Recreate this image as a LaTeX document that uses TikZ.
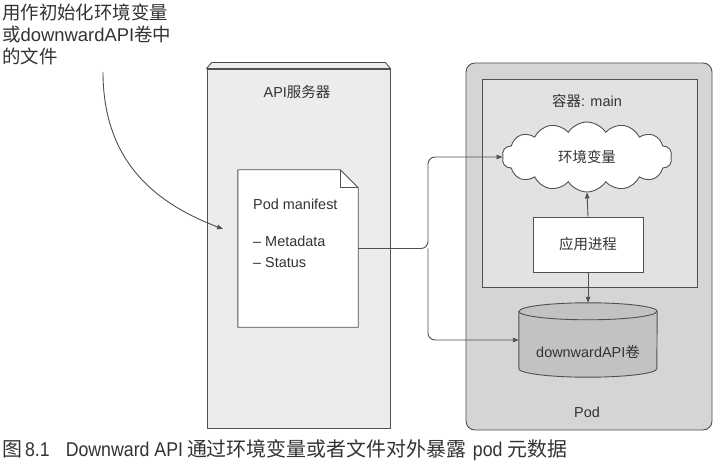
\documentclass[tikz,border=0pt]{standalone}
\usepackage{fontspec}
\setmainfont{Liberation Sans}
\newfontfamily\cjk{Noto Sans CJK SC}
\newfontfamily\capfont[FakeStretch=0.89]{Liberation Sans}
\usetikzlibrary{shapes.symbols,arrows.meta}
\definecolor{linec}{HTML}{505050}
\definecolor{txtc}{HTML}{333333}
\definecolor{srvfill}{HTML}{ECECEC}
\definecolor{podfill}{HTML}{D5D5D5}
\definecolor{ctrfill}{HTML}{E2E2E2}
\definecolor{volfill}{HTML}{C2C2C2}
\tikzset{
  outl/.style={draw=linec, line width=0.9bp},
  arr/.style={draw=linec, line width=0.9bp, -{Triangle[length=6bp,width=4.5bp]}},
  lbl/.style={text=txtc, font=\fontsize{14.5}{17}\selectfont, inner sep=0pt},
  box/.style={outl, inner sep=0pt},
}
\begin{document}
\begin{tikzpicture}[x=1bp,y=-1bp]
\useasboundingbox (0,0) rectangle (717,475);
\fill[white] (0,0) rectangle (717,475);

% annotation text
\node[anchor=north west, align=left, text=txtc, inner sep=0pt,
      font=\fontsize{18.5}{22}\selectfont] (note) at (2,4)
  {{\cjk 用作初始化环境变量}\\{\cjk 或}downwardAPI{\cjk 卷中}\\{\cjk 的文件}};

% API server
\node[box, fill=srvfill, minimum width=183bp, minimum height=359bp] (srv) at (298.5,248.5) {};
\filldraw[outl, fill=srvfill, line join=round] (srv.north west) -- ([xshift=5bp,yshift=6bp]srv.north west)
  -- ([xshift=-5bp,yshift=6bp]srv.north east) -- (srv.north east) -- cycle;
\node[lbl] (srvlbl) at (297,92) {API{\cjk 服务器}};

% document
\node[inner sep=0pt, minimum width=120bp, minimum height=157bp] (doc) at (298,248.5) {};
\filldraw[outl, fill=white, line join=round] (doc.south west) -- (doc.north west)
  -- ([xshift=-18bp]doc.north east) -- ([yshift=-18bp]doc.north east) -- (doc.south east) -- cycle;
\draw[outl, line join=round] ([xshift=-18bp]doc.north east) -- ([xshift=-18bp,yshift=-18bp]doc.north east)
  -- ([yshift=-18bp]doc.north east);
\node[lbl, anchor=west] (pm) at (253,204) {Pod manifest};
\node[lbl, anchor=west] (md) at (253,241) {\textendash\ Metadata};
\node[lbl, anchor=west] (st) at (253,263) {\textendash\ Status};

% pod
\node[box, fill=podfill, rounded corners=9bp, minimum width=246bp, minimum height=367bp] (pod) at (589,246.5) {};
\node[lbl] (podlbl) at (587,412) {Pod};

% container
\node[box, fill=ctrfill, minimum width=215bp, minimum height=208bp] (ctr) at (589.5,183) {};
\node[lbl] (ctrlbl) at (587,101) {{\cjk 容器}: main};

% cloud
\node[cloud, outl, fill=white, cloud puffs=14, cloud puff arc=115, aspect=2.37,
      minimum width=170bp, minimum height=70bp, inner sep=0pt, lbl] (env) at (587,157) {{\cjk 环境变量}};

% app process
\node[box, fill=white, minimum width=110bp, minimum height=55bp, lbl] (app) at (588,244.5) {{\cjk 应用进程}};

% volume cylinder
\node[inner sep=0pt, minimum width=138bp, minimum height=74bp] (vol) at (588,340) {};
\filldraw[outl, fill=volfill] ([yshift=-8.5bp]vol.north west) -- ([yshift=8.5bp]vol.south west)
  arc[start angle=180, end angle=360, x radius=69bp, y radius=8.5bp]
  -- ([yshift=-8.5bp]vol.north east)
  arc[start angle=0, end angle=180, x radius=69bp, y radius=8.5bp] -- cycle;
\draw[outl] ([yshift=-8.5bp]vol.north west)
  arc[start angle=180, end angle=360, x radius=69bp, y radius=8.5bp];
\node[lbl] (vollbl) at (588,352) {downwardAPI{\cjk 卷}};

% connectors
\coordinate (j) at (428,248.5);
\draw[arr, rounded corners=7bp] (doc.east) -- (j) |- (env.west);
\draw[arr, rounded corners=7bp] (j) |- (vol.west);
\draw[arr] (app.north) -- (env.south);
\draw[arr] (app.south) -- (vol.north);

\coordinate (cs) at (103,72);
\coordinate (ce) at (223,229);
\draw[arr] (cs) .. controls (103,165) and (160,205) .. (ce);

% caption
\node[anchor=west, inner sep=0pt, text=txtc, font=\fontsize{20}{23}\selectfont] (cap) at (2,450)
  {{\cjk 图}\hspace{3bp}\capfont 8.1\hspace{16bp}Downward API\hspace{4bp}{\cjk 通过环境变量或者文件对外暴露}\hspace{2bp} pod {\cjk 元数据}};
\end{tikzpicture}
\end{document}
